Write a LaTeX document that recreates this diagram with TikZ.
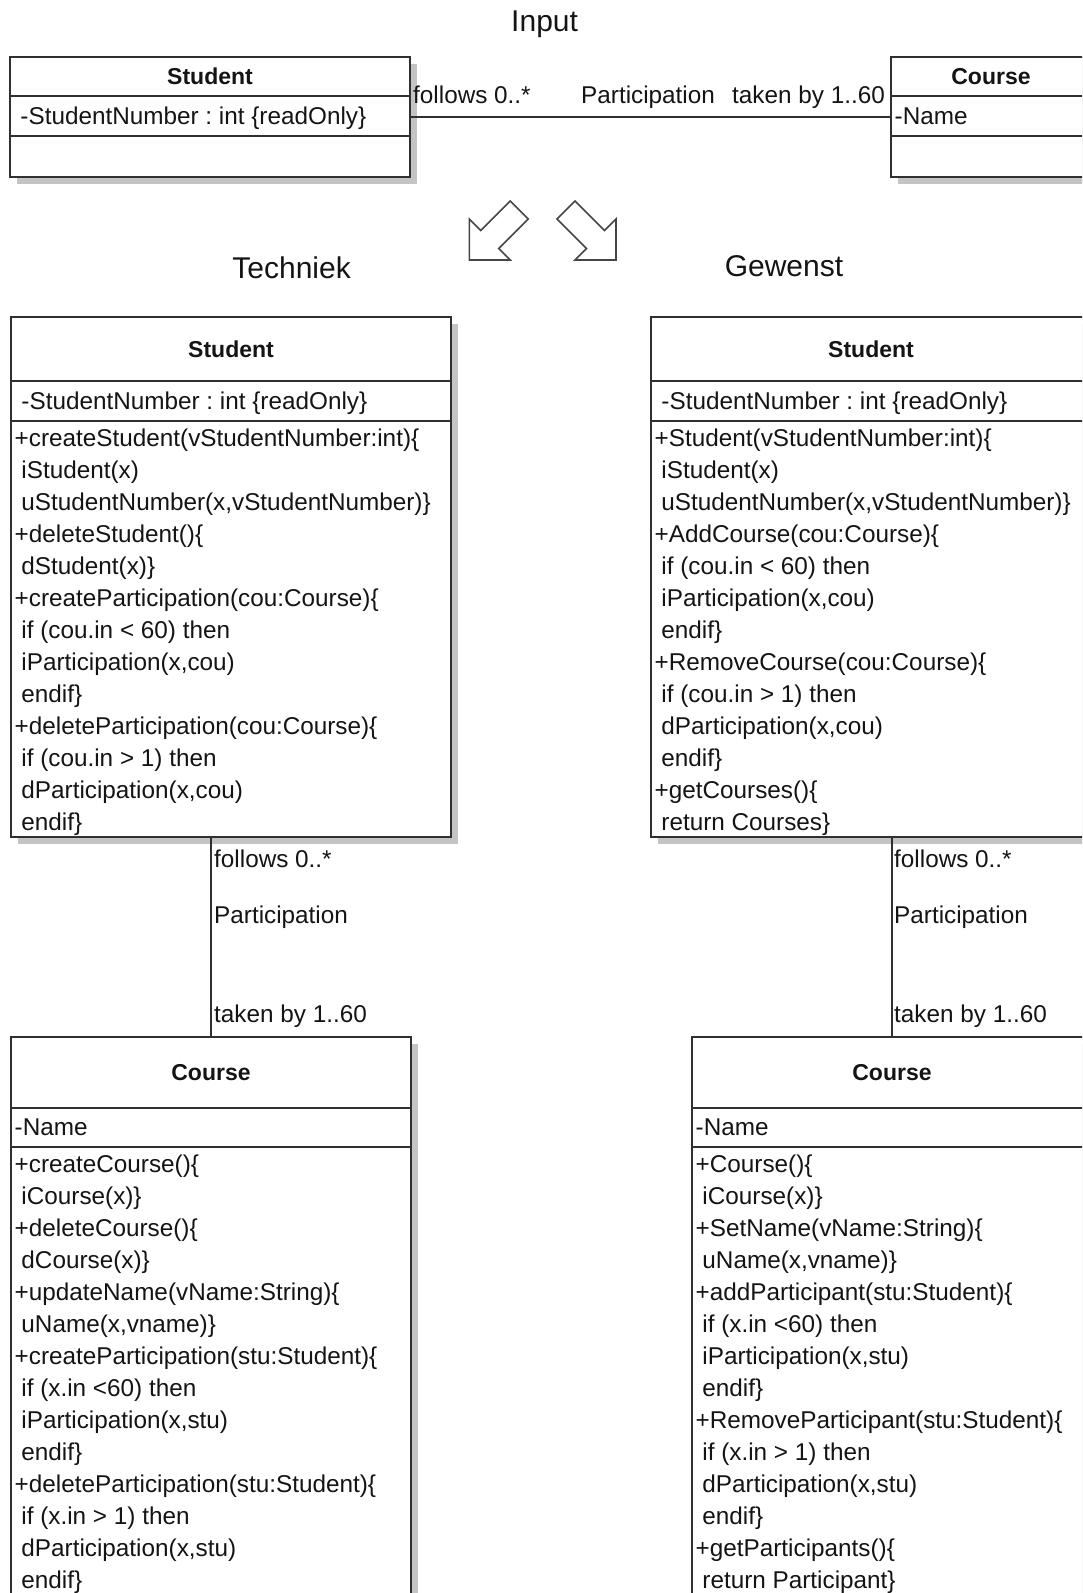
\documentclass[tikz,border=0pt]{standalone}
\usepackage{fontspec}
\setmainfont{Liberation Sans}
\usetikzlibrary{calc,shadows}
\frenchspacing
\definecolor{cLine}{HTML}{303030}
\definecolor{cShadow}{HTML}{C4C4C4}
\definecolor{cText}{HTML}{141414}
\tikzset{
  classbox/.style  = {rectangle, draw=cLine, fill=white, line width=2pt, inner sep=0pt,
                      drop shadow={shadow xshift=7pt, shadow yshift=-7pt, fill=cShadow, opacity=1}},
  compline/.style  = {draw=cLine, line width=2pt},
  assoc/.style     = {draw=cLine, line width=2pt},
  member/.style    = {font=\fontsize{24.3}{32}\selectfont, text=cText, inner sep=0pt, anchor=base west},
  classname/.style = {font=\fontsize{23}{32}\selectfont\bfseries, text=cText, inner sep=0pt, anchor=base},
  heading/.style   = {font=\fontsize{30}{36}\selectfont, text=cText, inner sep=0pt, anchor=base},
  bigarrow/.style  = {draw=cLine!90, line width=1.6pt, line join=miter},
}
% #1 name, #2 left, #3 top, #4 width, #5 height, #6 header height,
% #7 class name, #8 attribute, #9 list of operation lines
\newcommand{\umlclass}[9]{%
  \node[classbox, minimum width=#4pt, minimum height=#5pt, anchor=north west] (#1) at (#2,#3) {};
  \draw[compline] ($(#1.north west)+(0,#6)$) -- ($(#1.north east)+(0,#6)$);
  \draw[compline] ($(#1.north west)+(0,#6+39.5)$) -- ($(#1.north east)+(0,#6+39.5)$);
  \node[classname] (#1-name) at ($(#1.north)+(0,#6/2+8.5)$) {#7};
  \node[member] (#1-attr) at ($(#1.north west)+(4.5,#6+28.3)$) {#8};
  \if\relax\detokenize{#9}\relax\else
    \foreach \op [count=\i from 0] in {#9}
      \node[member] (#1-op\i) at ($(#1.north west)+(4.5,#6+65+32*\i)$) {\op};
  \fi}

\begin{document}
\begin{tikzpicture}[x=1pt, y=-1pt]
  \path[use as bounding box, clip] (0,0) rectangle (1082,1593);

  % input model
  \node[heading] (tInput) at (544.6,31) {Input};
  \umlclass{inStu}{9}{56}{400}{120}{40}{Student}{\ -StudentNumber : int \{readOnly\}}{}
  \umlclass{inCou}{890}{56}{200}{120}{40}{Course}{-Name}{}
  \draw[assoc] (inStu.east) -- (inCou.west);
  \node[member] (inFollows) at (413,103) {follows 0..*};
  \node[member] (inPart) at (581,103) {Participation};
  \node[member] (inTaken) at (732,103) {taken by 1..60};

  % transformation arrows
  \draw[bigarrow] (469.3,260) -- ++(0,-41) -- ++(11.5,11.5) -- ++(29.5,-29.5)
    -- ++(18,18) -- ++(-29.5,29.5) -- ++(11.5,11.5) -- cycle;
  \draw[bigarrow] (616,260) -- ++(0,-41) -- ++(-11.5,11.5) -- ++(-29.5,-29.5)
    -- ++(-18,18) -- ++(29.5,29.5) -- ++(-11.5,11.5) -- cycle;

  \node[heading] (tTech) at (291.6,278) {Techniek};
  \node[heading] (tWish) at (784,276) {Gewenst};

  % Techniek
  \umlclass{tStu}{10}{316}{440}{520}{65}{Student}{\ -StudentNumber : int \{readOnly\}}{%
    {+createStudent(vStudentNumber:int)\{},{\ iStudent(x)},{\ uStudentNumber(x,vStudentNumber)\}},
    {+deleteStudent()\{},{\ dStudent(x)\}},
    {+createParticipation(cou:Course)\{},{\ if (cou.in < 60) then},{\ iParticipation(x,cou)},{\ endif\}},
    {+deleteParticipation(cou:Course)\{},{\ if (cou.in > 1) then},{\ dParticipation(x,cou)},{\ endif\}}}
  \umlclass{tCou}{10}{1036}{400}{600}{71.5}{Course}{-Name}{%
    {+createCourse()\{},{\ iCourse(x)\}},{+deleteCourse()\{},{\ dCourse(x)\}},
    {+updateName(vName:String)\{},{\ uName(x,vname)\}},
    {+createParticipation(stu:Student)\{},{\ if (x.in <60) then},{\ iParticipation(x,stu)},{\ endif\}},
    {+deleteParticipation(stu:Student)\{},{\ if (x.in > 1) then},{\ dParticipation(x,stu)},{\ endif\}}}
  \draw[assoc] (tCou.north |- tStu.south) -- (tCou.north);
  \node[member] (tFollows) at (214,867) {follows 0..*};
  \node[member] (tPart) at (214,923) {Participation};
  \node[member] (tTaken) at (214,1022.5) {taken by 1..60};

  % Gewenst
  \umlclass{gStu}{650}{316}{440}{520}{65}{Student}{\ -StudentNumber : int \{readOnly\}}{%
    {+Student(vStudentNumber:int)\{},{\ iStudent(x)},{\ uStudentNumber(x,vStudentNumber)\}},
    {+AddCourse(cou:Course)\{},{\ if (cou.in < 60) then},{\ iParticipation(x,cou)},{\ endif\}},
    {+RemoveCourse(cou:Course)\{},{\ if (cou.in > 1) then},{\ dParticipation(x,cou)},{\ endif\}},
    {+getCourses()\{},{\ return Courses\}}}
  \umlclass{gCou}{691}{1036}{400}{600}{71.5}{Course}{-Name}{%
    {+Course()\{},{\ iCourse(x)\}},{+SetName(vName:String)\{},{\ uName(x,vname)\}},
    {+addParticipant(stu:Student)\{},{\ if (x.in <60) then},{\ iParticipation(x,stu)},{\ endif\}},
    {+RemoveParticipant(stu:Student)\{},{\ if (x.in > 1) then},{\ dParticipation(x,stu)},{\ endif\}},
    {+getParticipants()\{},{\ return Participant\}}}
  \draw[assoc] (gCou.north |- gStu.south) -- (gCou.north);
  \node[member] (gFollows) at (894,867) {follows 0..*};
  \node[member] (gPart) at (894,923) {Participation};
  \node[member] (gTaken) at (894,1022.5) {taken by 1..60};
\end{tikzpicture}
\end{document}
